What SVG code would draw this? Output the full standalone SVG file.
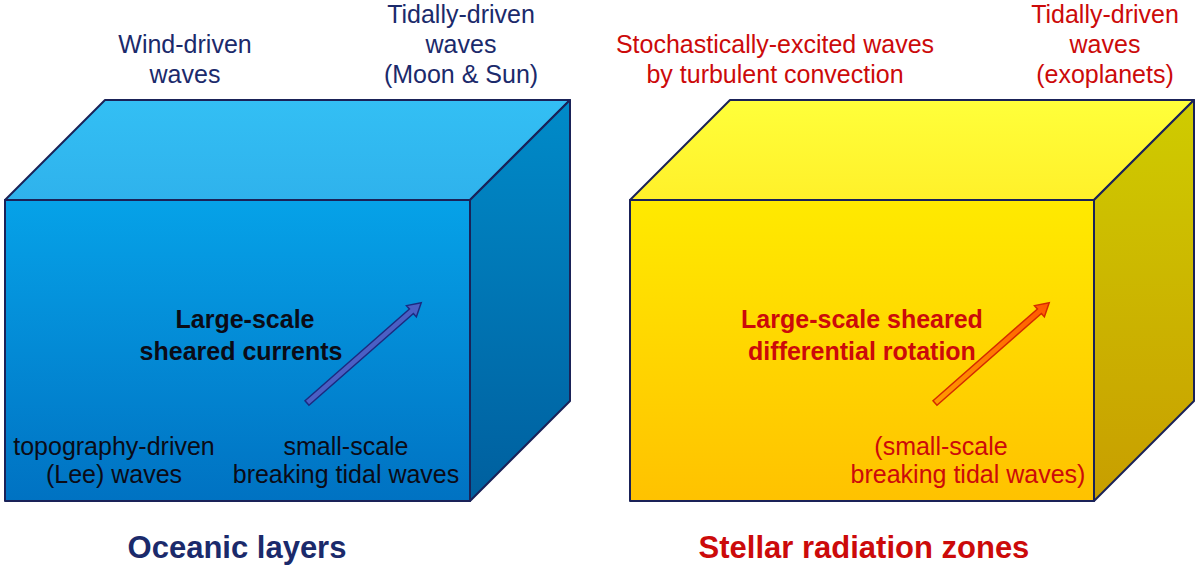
<svg xmlns="http://www.w3.org/2000/svg" width="1200" height="580" viewBox="0 0 1200 580">
<style>
text{font-family:"Liberation Sans",Arial,sans-serif;font-size:25px;text-anchor:middle}
.navy{fill:#1b2a6b}
.red{fill:#cc0a0a}
.dark{fill:#0b0b16}
.b{font-weight:bold}
.title{font-size:31px;font-weight:bold}
.edge{stroke:#1a2258;stroke-width:2;stroke-linejoin:round}
</style>
<defs>
<linearGradient id="bFront" x1="0" y1="0" x2="0" y2="1"><stop offset="0" stop-color="#06a2e8"/><stop offset="1" stop-color="#0072c2"/></linearGradient>
<linearGradient id="bTop" x1="0" y1="0" x2="0" y2="1"><stop offset="0" stop-color="#33bff4"/><stop offset="1" stop-color="#2fb2ec"/></linearGradient>
<linearGradient id="bSide" x1="0" y1="0" x2="0" y2="1"><stop offset="0" stop-color="#008bc9"/><stop offset="1" stop-color="#005f9e"/></linearGradient>
<linearGradient id="yFront" x1="0" y1="0" x2="0" y2="1"><stop offset="0" stop-color="#ffea00"/><stop offset="1" stop-color="#ffc200"/></linearGradient>
<linearGradient id="yTop" x1="0" y1="0" x2="0" y2="1"><stop offset="0" stop-color="#ffff3a"/><stop offset="1" stop-color="#fff02a"/></linearGradient>
<linearGradient id="ySide" x1="0" y1="0" x2="0" y2="1"><stop offset="0" stop-color="#cfcc00"/><stop offset="1" stop-color="#c89e00"/></linearGradient>
<linearGradient id="oArrow" x1="0" y1="0" x2="1" y2="0"><stop offset="0" stop-color="#ff9a00"/><stop offset="1" stop-color="#ff5a00"/></linearGradient>
</defs>

<g id="ocean-box">
<polygon class="edge" points="5,200 105,100 570,100 470,200" fill="url(#bTop)"/>
<polygon class="edge" points="470,200 570,100 570,401 470,501" fill="url(#bSide)"/>
<rect class="edge" x="5" y="200" width="465" height="301" fill="url(#bFront)"/>
</g>

<g id="stellar-box">
<polygon class="edge" points="630,200 730,100 1194,100 1094,200" fill="url(#yTop)"/>
<polygon class="edge" points="1094,200 1194,100 1194,401 1094,501" fill="url(#ySide)"/>
<rect class="edge" x="630" y="200" width="464" height="301" fill="url(#yFront)"/>
</g>

<g id="connectors">
<polygon transform="translate(307,403) rotate(-41.3)" points="0,-3 139,-3 139,-7.5 152,0 139,7.5 139,3 0,3" fill="#4b5fc4" stroke="#1c2a80" stroke-width="1.5" stroke-linejoin="miter"/>
<polygon transform="translate(935,403) rotate(-41.3)" points="0,-3 139,-3 139,-7.5 152,0 139,7.5 139,3 0,3" fill="url(#oArrow)" stroke="#d42a00" stroke-width="1.5" stroke-linejoin="miter"/>
</g>

<g id="ocean-labels">
<text class="navy" x="185" y="53">Wind-driven</text>
<text class="navy" x="185" y="83">waves</text>
<text class="navy" x="461" y="23">Tidally-driven</text>
<text class="navy" x="461" y="53">waves</text>
<text class="navy" x="461" y="83">(Moon &amp; Sun)</text>
<text class="dark b" x="245" y="328">Large-scale</text>
<text class="dark b" x="241" y="360">sheared currents</text>
<text class="dark" x="114" y="455">topography-driven</text>
<text class="dark" x="114" y="483">(Lee) waves</text>
<text class="dark" x="346" y="455">small-scale</text>
<text class="dark" x="346" y="483">breaking tidal waves</text>
<text class="navy title" x="237" y="558">Oceanic layers</text>
</g>

<g id="stellar-labels">
<text class="red" x="775" y="53">Stochastically-excited waves</text>
<text class="red" x="775" y="83">by turbulent convection</text>
<text class="red" x="1105" y="23">Tidally-driven</text>
<text class="red" x="1105" y="53">waves</text>
<text class="red" x="1105" y="83">(exoplanets)</text>
<text class="red b" x="862" y="328">Large-scale sheared</text>
<text class="red b" x="862" y="360">differential rotation</text>
<text class="red" x="941" y="455">(small-scale</text>
<text class="red" x="968" y="483">breaking tidal waves)</text>
<text class="red title" x="864" y="558">Stellar radiation zones</text>
</g>
</svg>
